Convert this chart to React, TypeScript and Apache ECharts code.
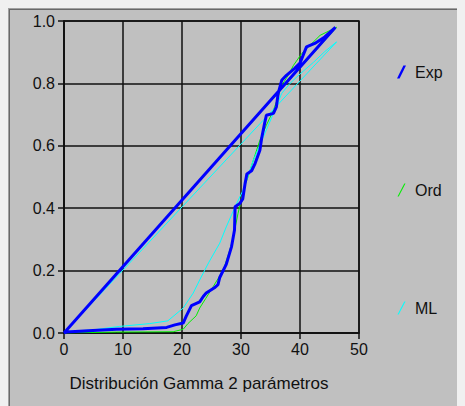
import React, { useEffect, useRef } from "react";
import * as echarts from "echarts";

const xTicks = [0, 10, 20, 30, 40, 50];
const yTicks = [0, 0.2, 0.4, 0.6, 0.8, 1.0];
const seriesNames = ["Exp", "Ord", "ML"];
const seriesColors = ["#0000ff", "#00ee00", "#00ffff"];
const chartTitle = "Distribución Gamma 2 parámetros";

// Each curve runs along the fitted distribution and returns straight to the origin
const expData: number[][] = [
  [0, 0], [0.4, 0.003], [4.9, 0.008], [8.9, 0.012], [13.4, 0.014], [17.4, 0.018],
  [18.8, 0.026], [20.2, 0.032], [20.7, 0.053], [21.6, 0.088], [23, 0.1],
  [23.6, 0.117], [24.1, 0.128], [25.5, 0.145], [26.1, 0.155], [26.4, 0.178],
  [27.5, 0.22], [28.4, 0.277], [28.9, 0.33], [29, 0.405], [29.8, 0.415],
  [30.3, 0.43], [30.7, 0.48], [31, 0.51], [31.8, 0.52], [32.4, 0.544],
  [33.2, 0.586], [33.5, 0.624], [34, 0.672], [34.3, 0.698], [35.5, 0.704],
  [36, 0.725], [36.3, 0.768], [36.9, 0.81], [37.7, 0.826], [39.1, 0.848],
  [40, 0.865], [41.1, 0.917], [42.5, 0.928], [44.2, 0.949], [46.0, 0.98], [0, 0],
];
const ordData: number[][] = [
  [0, 0], [8.9, 0.003], [18.5, 0.004], [20.2, 0.012], [21, 0.03], [22.4, 0.055],
  [23, 0.08], [24, 0.11], [25.3, 0.149], [26.3, 0.18], [27.2, 0.213], [28, 0.26],
  [28.6, 0.298], [29.5, 0.384], [30.6, 0.469], [31.2, 0.501], [32.1, 0.554],
  [33.2, 0.618], [34.3, 0.666], [35.5, 0.714], [36.3, 0.757], [36.9, 0.794],
  [38, 0.826], [38.9, 0.858], [40.3, 0.896], [41.7, 0.922], [43.4, 0.954],
  [46.2, 0.98], [0, 0],
];
const mlData: number[][] = [
  [0, 0], [0.7, 0.005], [4.9, 0.01], [9.4, 0.021], [14.5, 0.03], [17.6, 0.039],
  [20.2, 0.08], [21.9, 0.128], [23, 0.17], [24.5, 0.225], [26.4, 0.288],
  [27.5, 0.34], [28.9, 0.4], [30.4, 0.46], [32.1, 0.554], [33.8, 0.629],
  [35.5, 0.704], [36.9, 0.768], [38.3, 0.8], [40, 0.83], [42.3, 0.868],
  [44.2, 0.902], [46.2, 0.933], [0, 0],
];

const FONT = "Arial, 'Liberation Sans', sans-serif";

export default function App() {
  const ref = useRef<HTMLDivElement>(null);
  useEffect(() => {
    document.body.style.background = "#f0f0f0";
    if (!ref.current) return;
    const chart = echarts.init(ref.current, undefined, { renderer: "svg" });
    const thickIcon = "path://M0,13 L2.6,13 L9,0 L6.4,0 Z";
    const thinIcon = "path://M0,13 L1.2,13 L8,0 L6.8,0 Z";
    const dataSets = [expData, ordData, mlData];
    const widths = [3, 1, 1];
    const order = [1, 2, 0];
    chart.setOption({
      animation: false,
      backgroundColor: "transparent",
      grid: {
        left: 56,
        top: 13,
        width: 295,
        height: 312,
        show: true,
        borderColor: "#111",
        borderWidth: 1.5,
        backgroundColor: "transparent",
      },
      xAxis: {
        type: "value",
        min: 0,
        max: 50,
        interval: 10,
        axisLine: { show: true, lineStyle: { color: "#111", width: 1.5 } },
        axisTick: { show: true, length: 6, lineStyle: { color: "#111", width: 1.5 } },
        splitLine: { show: true, lineStyle: { color: "#111", width: 1.5 } },
        axisLabel: {
          margin: 8,
          color: "#111",
          fontSize: 16,
          fontFamily: FONT,
          formatter: (v: number) => (xTicks.includes(v) ? String(v) : ""),
        },
      },
      yAxis: {
        type: "value",
        min: 0,
        max: 1,
        interval: 0.2,
        axisLine: { show: true, lineStyle: { color: "#111", width: 1.5 } },
        axisTick: { show: true, length: 6, lineStyle: { color: "#111", width: 1.5 } },
        splitLine: { show: true, lineStyle: { color: "#111", width: 1.5 } },
        axisLabel: {
          margin: 9,
          color: "#111",
          fontSize: 16,
          fontFamily: FONT,
          formatter: (v: number) => {
            const t = yTicks.find((y) => Math.abs(y - v) < 1e-6);
            return t === undefined ? "" : t.toFixed(1);
          },
        },
      },
      legend: {
        orient: "vertical",
        left: 389,
        top: 56,
        padding: 0,
        itemWidth: 9,
        itemHeight: 13,
        itemGap: 102,
        selectedMode: false,
        textStyle: { fontSize: 16, color: "#111", fontFamily: FONT, padding: [0, 0, 0, 4] },
        data: seriesNames.map((n, i) => ({
          name: n,
          icon: i === 0 ? thickIcon : thinIcon,
          itemStyle: { color: seriesColors[i], borderWidth: 0 },
        })),
      },
      graphic: [
        {
          type: "text",
          x: 191,
          y: 375,
          style: {
            text: chartTitle,
            fontSize: 17,
            fontFamily: FONT,
            fill: "#111",
            textAlign: "center",
            textVerticalAlign: "middle",
          },
        },
      ],
      series: order.map((i) => ({
        name: seriesNames[i],
        type: "line",
        data: dataSets[i],
        showSymbol: false,
        symbol: "none",
        color: seriesColors[i],
        lineStyle: { color: seriesColors[i], width: widths[i] },
        z: i === 0 ? 5 : 3,
      })),
    });
    return () => chart.dispose();
  }, []);
  return (
    <div
      style={{
        position: "relative",
        width: 457,
        height: 398,
        background: "#c0c0c0",
        boxShadow: "inset 1px 1px 0 #a0a0a0, inset 2px 2px 0 #696969",
      }}
    >
      <div ref={ref} style={{ position: "absolute", left: 0, top: 0, width: 457, height: 398 }} />
    </div>
  );
}
